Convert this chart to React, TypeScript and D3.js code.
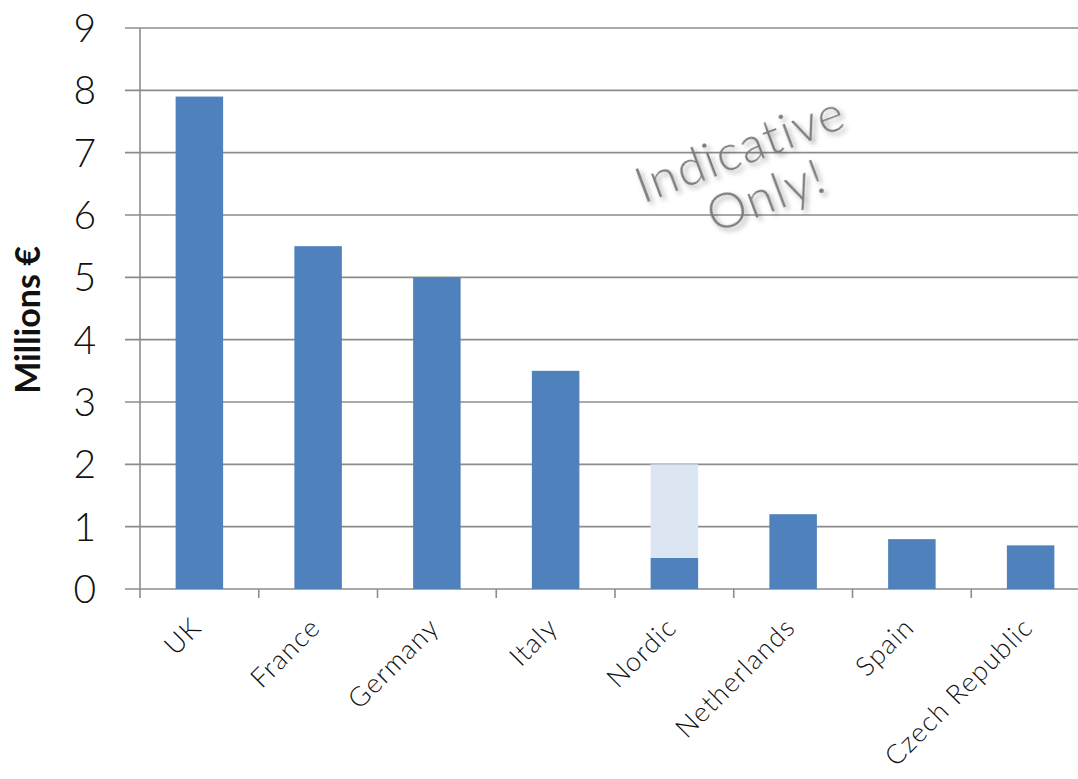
import React from "react";
import * as d3 from "d3";

const categories = ["UK", "France", "Germany", "Italy", "Nordic", "Netherlands", "Spain", "Czech Republic"];
const baseValues = [7.9, 5.5, 5.0, 3.5, 0.5, 1.2, 0.8, 0.7];
const extraValues = [0, 0, 0, 0, 1.5, 0, 0, 0];
const yTicks = [0, 1, 2, 3, 4, 5, 6, 7, 8, 9];

export default function App() {
  const W = 1078, H = 779;
  const x0 = 140, x1 = 140 + 8 * 118.75;
  const y = d3.scaleLinear().domain([0, 9]).range([589, 28]);
  const x = d3.scaleBand().domain(categories).range([x0, x1]).paddingInner(0.6).paddingOuter(0.3);
  const band = (x1 - x0) / categories.length;
  const grid = "#8c8c8c";
  const font = "Lato, 'Open Sans', sans-serif";
  return (
    <svg width={W} height={H} style={{ position: "absolute", left: 0, top: 0, background: "#fff" }}>
      <defs>
        <filter id="sh" x="-20%" y="-20%" width="140%" height="160%">
          <feDropShadow dx="2" dy="4" stdDeviation="2.5" floodColor="#000" floodOpacity="0.35" />
        </filter>
      </defs>
      {yTicks.map((t) => (
        <g key={t}>
          <line x1={125} x2={W} y1={y(t)} y2={y(t)} stroke={grid} strokeWidth={1.6} />
          <text x={96} y={y(t)} dy="0.36em" textAnchor="end" fontFamily={font} fontWeight={300} fontSize={39} fill="#111">{t}</text>
        </g>
      ))}
      <line x1={x0} x2={x0} y1={y(9)} y2={y(0) + 9} stroke={grid} strokeWidth={1.6} />
      {categories.map((c, i) => (
        <line key={"t" + i} x1={x0 + band * (i + 1)} x2={x0 + band * (i + 1)} y1={y(0)} y2={y(0) + 9} stroke={grid} strokeWidth={1.6} />
      ))}
      {categories.map((c, i) => (
        <g key={c}>
          <rect x={x(c)} width={x.bandwidth()} y={y(baseValues[i])} height={y(0) - y(baseValues[i])} fill="#4F81BD" />
          {extraValues[i] > 0 && (
            <rect x={x(c)} width={x.bandwidth()} y={y(baseValues[i] + extraValues[i])} height={y(baseValues[i]) - y(baseValues[i] + extraValues[i])} fill="#DCE6F2" />
          )}
        </g>
      ))}
      {categories.map((c, i) => {
        const cx = (x(c) as number) + x.bandwidth() / 2 + 4;
        const cy = y(0) + 40;
        return (
          <text key={"l" + c} transform={`translate(${cx},${cy}) rotate(-45)`} textAnchor="end" fontFamily={font} fontWeight={300} fontSize={27} letterSpacing={1.3} fill="#111">{c}</text>
        );
      })}
      <text transform={`translate(40,320) rotate(-90)`} textAnchor="middle" fontFamily={font} fontWeight={700} fontSize={34} fill="#111">Millions €</text>
      <g transform="translate(746,165) rotate(-20.6)" filter="url(#sh)">
        <text x={0} y={0} textAnchor="middle" fontFamily={font} fontWeight={300} fontSize={50} letterSpacing={1.5} fill="#7a7a7a">Indicative</text>
        <text x={8} y={53} textAnchor="middle" fontFamily={font} fontWeight={300} fontSize={50} letterSpacing={1.5} fill="#7a7a7a">Only!</text>
      </g>
    </svg>
  );
}
